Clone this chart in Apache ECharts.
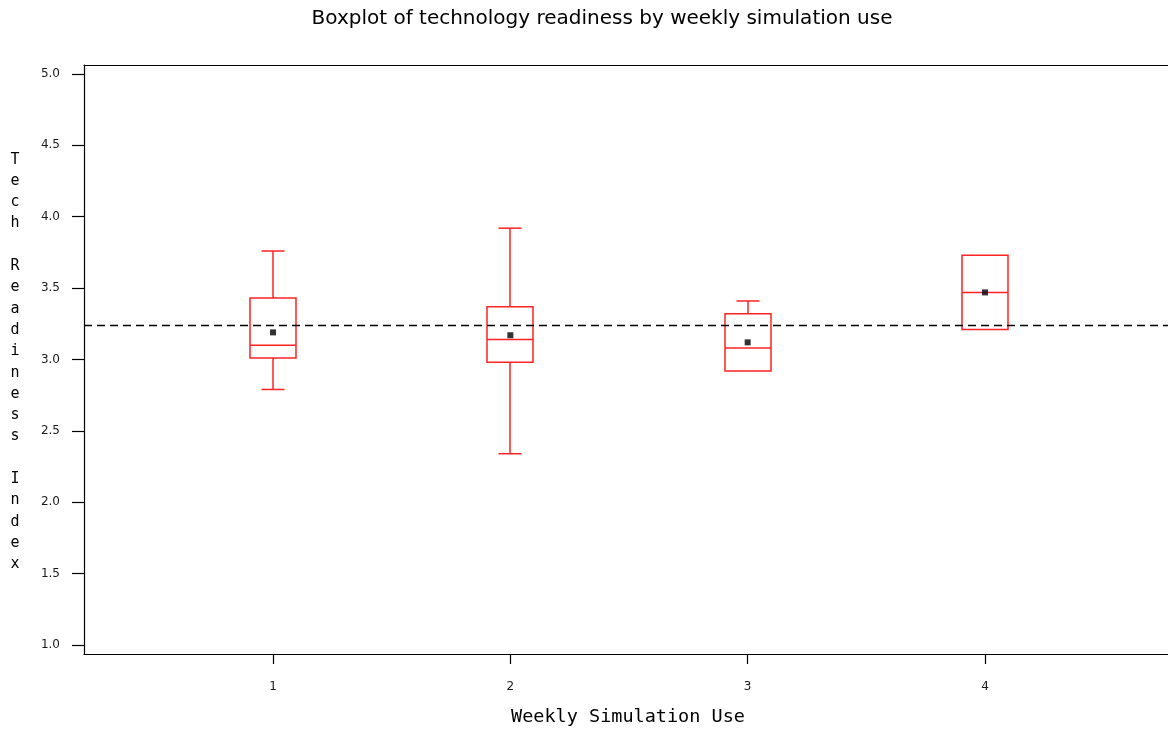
<!DOCTYPE html>
<html>
<head>
<meta charset="utf-8">
<title>Boxplot of technology readiness by weekly simulation use</title>
<script src="https://cdn.jsdelivr.net/npm/echarts@6/dist/echarts.min.js"></script>
<style>
  html, body { margin: 0; padding: 0; background: #ffffff; }
  #chart { width: 1168px; height: 731px; }
</style>
</head>
<body>
<div id="chart"></div>
<script>
// Weekly simulation use groups and the five-number summaries of the tech readiness index
const groups = [1, 2, 3, 4];
const whiskerLow = [2.79, 2.34, 2.92, 3.21];
const q1 = [3.01, 2.98, 2.92, 3.21];
const median = [3.10, 3.14, 3.08, 3.47];
const q3 = [3.43, 3.37, 3.32, 3.73];
const whiskerHigh = [3.76, 3.92, 3.41, 3.73];
const means = [3.19, 3.17, 3.12, 3.47];
const overallMean = 3.24;

const xTicks = [1, 2, 3, 4];
const yTicks = [1.0, 1.5, 2.0, 2.5, 3.0, 3.5, 4.0, 4.5, 5.0];

const titleText = 'Boxplot of technology readiness by weekly simulation use';
const xTitle = 'Weekly Simulation Use';
const yTitle = 'Tech Readiness Index';

const boxColor = '#ff2222';
const BOX_HALF = 23;   // half width of a box, px
const CAP_HALF = 11.5; // half width of a whisker cap, px

const boxData = groups.map((g, i) => [g, whiskerLow[i], q1[i], median[i], q3[i], whiskerHigh[i]]);
const meanData = groups.map((g, i) => [g, means[i]]);

function renderBox(params, api) {
  const x = api.value(0);
  const pLow = api.coord([x, api.value(1)]);
  const pQ1 = api.coord([x, api.value(2)]);
  const pMed = api.coord([x, api.value(3)]);
  const pQ3 = api.coord([x, api.value(4)]);
  const pHigh = api.coord([x, api.value(5)]);
  const cx = Math.round(pMed[0]);
  const lineStyle = { stroke: boxColor, lineWidth: 1.5, fill: null };
  const children = [
    {
      type: 'rect',
      shape: { x: cx - BOX_HALF, y: pQ3[1], width: BOX_HALF * 2, height: pQ1[1] - pQ3[1] },
      style: lineStyle
    },
    {
      type: 'line',
      shape: { x1: cx - BOX_HALF, y1: pMed[1], x2: cx + BOX_HALF, y2: pMed[1] },
      style: lineStyle
    }
  ];
  if (api.value(5) > api.value(4)) {
    children.push(
      { type: 'line', shape: { x1: cx, y1: pQ3[1], x2: cx, y2: pHigh[1] }, style: lineStyle },
      { type: 'line', shape: { x1: cx - CAP_HALF, y1: pHigh[1], x2: cx + CAP_HALF, y2: pHigh[1] }, style: lineStyle }
    );
  }
  if (api.value(1) < api.value(2)) {
    children.push(
      { type: 'line', shape: { x1: cx, y1: pQ1[1], x2: cx, y2: pLow[1] }, style: lineStyle },
      { type: 'line', shape: { x1: cx - CAP_HALF, y1: pLow[1], x2: cx + CAP_HALF, y2: pLow[1] }, style: lineStyle }
    );
  }
  return { type: 'group', children: children };
}

const chart = echarts.init(document.getElementById('chart'), null, { renderer: 'canvas' });

const xMin = 0.2036, xMax = 4.771;
const yMin = 0.937, yMax = 5.063;

const tickLabelStyle = {
  fontFamily: 'DejaVu Sans',
  fontSize: 12,
  color: '#1a1a1a'
};

chart.setOption({
  backgroundColor: '#ffffff',
  animation: false,
  grid: { left: 84, top: 65, right: 0, bottom: 77, containLabel: false },
  xAxis: [
    {
      type: 'value',
      min: xMin,
      max: xMax,
      position: 'bottom',
      axisLine: { show: true, onZero: false, lineStyle: { color: '#000', width: 1.2 } },
      axisTick: { show: true, customValues: xTicks, length: 10, lineStyle: { color: '#000', width: 1.2 } },
      axisLabel: Object.assign({ customValues: xTicks, margin: 27 }, tickLabelStyle),
      splitLine: { show: false }
    },
    {
      type: 'value',
      min: xMin,
      max: xMax,
      position: 'top',
      axisLine: { show: true, onZero: false, lineStyle: { color: '#000', width: 1.2 } },
      axisTick: { show: false },
      axisLabel: { show: false },
      splitLine: { show: false }
    }
  ],
  yAxis: {
    type: 'value',
    min: yMin,
    max: yMax,
    axisLine: { show: true, onZero: false, lineStyle: { color: '#000', width: 1.2 } },
    axisTick: { show: true, customValues: yTicks, length: 12, lineStyle: { color: '#000', width: 1.2 } },
    axisLabel: Object.assign({ customValues: yTicks, margin: 24, formatter: v => v.toFixed(1) }, tickLabelStyle),
    splitLine: { show: false }
  },
  series: [
    {
      type: 'custom',
      name: 'boxes',
      xAxisIndex: 0,
      renderItem: renderBox,
      encode: { x: 0, y: [1, 2, 3, 4, 5] },
      data: boxData,
      z: 3
    },
    {
      type: 'scatter',
      name: 'mean',
      xAxisIndex: 0,
      symbol: 'rect',
      symbolSize: 6,
      itemStyle: { color: '#000' },
      data: meanData,
      z: 4,
      markLine: {
        silent: true,
        symbol: 'none',
        label: { show: false },
        lineStyle: { color: '#000', width: 1.3, type: [8, 5] },
        data: [{ yAxis: overallMean }]
      }
    }
  ],
  graphic: [
    {
      type: 'text',
      x: 602,
      y: 19,
      style: {
        text: titleText,
        font: '20px "DejaVu Sans"',
        fill: '#000',
        textAlign: 'center',
        textVerticalAlign: 'middle'
      }
    },
    {
      type: 'text',
      x: 628,
      y: 717,
      style: {
        text: xTitle,
        font: '18.5px "DejaVu Sans Mono"',
        fill: '#000',
        textAlign: 'center',
        textVerticalAlign: 'middle'
      }
    },
    {
      type: 'text',
      x: 15,
      y: 362,
      style: {
        text: yTitle.split('').join('\n'),
        font: '15px "DejaVu Sans Mono"',
        lineHeight: 21.3,
        fill: '#000',
        textAlign: 'center',
        textVerticalAlign: 'middle'
      }
    }
  ]
});
</script>
</body>
</html>
